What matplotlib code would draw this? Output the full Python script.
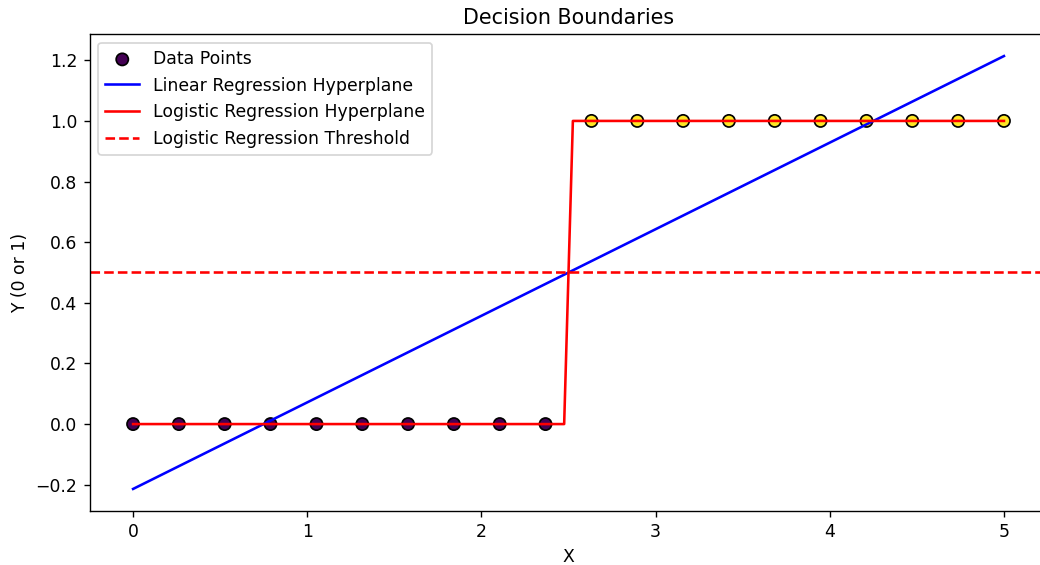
import numpy as np
import matplotlib
matplotlib.use("Agg")
import matplotlib.pyplot as plt

# Data points (X evenly spaced 0..5, class labels)
x_points = [0.0, 0.263, 0.526, 0.789, 1.053, 1.316, 1.579, 1.842, 2.105, 2.368,
            2.632, 2.895, 3.158, 3.421, 3.684, 3.947, 4.211, 4.474, 4.737, 5.0]
y_points = [0, 0, 0, 0, 0, 0, 0, 0, 0, 0,
            1, 1, 1, 1, 1, 1, 1, 1, 1, 1]

# Linear regression hyperplane endpoints
lin_x = [0.0, 5.0]
lin_y = [-0.214, 1.214]

# Logistic regression curve (steep step)
log_x = [0.0, 2.475, 2.525, 5.0]
log_y = [0.0, 0.0, 1.0, 1.0]

threshold = 0.5

DPI = 124
fig = plt.figure(figsize=(1040 / DPI, 565 / DPI), dpi=DPI)
ax = fig.add_axes([0.0861, 0.0963, 0.9211, 0.8428])

ax.scatter(x_points, y_points, c=y_points, cmap='viridis', edgecolors='k',
           s=50, label='Data Points')
ax.plot(lin_x, lin_y, color='blue', label='Linear Regression Hyperplane')
ax.plot(log_x, log_y, color='red', label='Logistic Regression Hyperplane')
ax.axhline(threshold, color='red', linestyle='--', label='Logistic Regression Threshold')

ax.set_title('Decision Boundaries')
ax.set_xlabel('X')
ax.set_ylabel('Y (0 or 1)')
ax.legend(loc='upper left')

fig.savefig('out.png', dpi=DPI)
